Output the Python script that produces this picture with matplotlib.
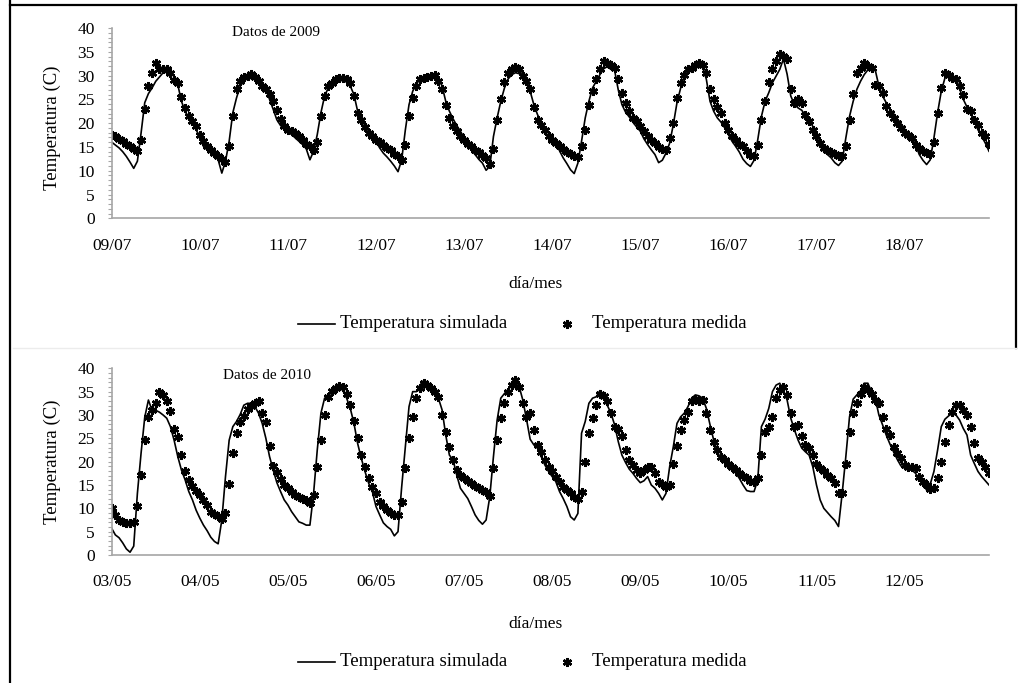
import numpy as np
import matplotlib.pyplot as plt
from matplotlib.lines import Line2D
from matplotlib.ticker import MultipleLocator, FixedLocator

plt.rcParams['font.family'] = ['Liberation Serif', 'DejaVu Serif']

## Datos horarios (24 valores por dia, 10 dias por serie)
dias_2009 = ['09/07', '10/07', '11/07', '12/07', '13/07',
             '14/07', '15/07', '16/07', '17/07', '18/07']
dias_2010 = ['03/05', '04/05', '05/05', '06/05', '07/05',
             '08/05', '09/05', '10/05', '11/05', '12/05']

sim_2009 = [
    16.0, 15.4, 14.8, 14.0, 13.0, 11.8, 10.5, 12.0, 17.9, 24.3, 26.2, 27.4, 28.8, 29.7, 30.6, 30.7, 30.6, 29.9, 28.1, 24.6, 22.5, 21.1, 20.0, 18.6,
    17.1, 15.1, 14.4, 13.9, 13.2, 12.3, 9.5, 12.0, 16.2, 22.2, 25.3, 27.8, 28.8, 29.5, 30.0, 29.7, 29.0, 28.3, 27.1, 25.0, 22.9, 20.7, 19.5, 18.8,
    18.3, 17.6, 16.9, 16.2, 15.5, 14.6, 12.3, 14.1, 17.6, 22.2, 25.7, 27.4, 28.5, 28.8, 29.0, 29.2, 28.6, 27.8, 26.0, 22.5, 20.7, 19.5, 18.3, 17.2,
    16.2, 14.8, 13.7, 12.9, 12.0, 11.0, 9.8, 12.3, 18.6, 23.9, 26.7, 28.3, 29.2, 29.5, 29.7, 29.9, 30.0, 29.5, 27.8, 24.6, 22.5, 20.9, 19.5, 18.3,
    16.9, 15.7, 14.3, 13.4, 12.4, 11.6, 10.1, 10.9, 17.2, 21.1, 24.6, 27.4, 29.3, 30.2, 30.6, 30.4, 30.6, 29.2, 26.7, 23.9, 21.8, 20.2, 19.0, 17.9,
    17.0, 15.8, 14.2, 12.7, 11.5, 10.2, 9.4, 11.6, 16.2, 21.1, 24.6, 27.4, 28.8, 30.2, 31.4, 31.9, 31.3, 31.1, 27.0, 23.9, 22.3, 21.3, 20.2, 19.2,
    18.3, 16.7, 15.5, 14.4, 13.4, 11.7, 12.2, 13.7, 15.8, 19.7, 24.3, 27.4, 29.9, 30.9, 31.4, 32.0, 32.7, 31.9, 29.2, 24.6, 22.5, 21.1, 20.2, 19.0,
    17.6, 16.2, 15.1, 13.9, 12.4, 11.5, 10.9, 12.2, 16.5, 21.4, 24.6, 26.4, 28.5, 29.9, 31.3, 33.5, 30.3, 25.7, 23.9, 23.2, 22.7, 21.6, 20.7, 19.3,
    17.6, 15.1, 14.1, 13.4, 12.7, 11.7, 11.1, 12.0, 16.9, 21.4, 24.6, 27.1, 28.8, 30.2, 31.2, 31.3, 31.2, 27.8, 25.7, 24.3, 23.0, 22.0, 20.9, 19.9,
    18.8, 17.6, 16.9, 15.5, 13.4, 12.2, 11.3, 12.3, 16.9, 22.2, 26.7, 29.5, 29.9, 29.2, 29.5, 27.2, 25.0, 23.4, 22.0, 20.4, 18.6, 17.2, 15.8, 14.1,
]
med_2009 = [
    17.6, 17.2, 16.7, 16.2, 15.7, 15.2, 14.6, 14.1, 16.4, 22.9, 27.8, 30.6, 32.6, 31.3, 31.3, 31.3, 30.6, 29.0, 28.5, 25.5, 23.2, 21.4, 20.4, 19.3,
    17.6, 16.2, 15.3, 14.4, 13.7, 13.2, 12.5, 11.9, 15.3, 21.4, 27.2, 28.8, 29.7, 30.0, 30.4, 29.7, 28.8, 27.9, 27.1, 26.2, 24.6, 22.8, 20.9, 19.5,
    18.6, 18.3, 17.9, 17.2, 16.5, 15.7, 15.1, 14.3, 16.0, 21.4, 25.8, 27.8, 28.5, 29.3, 29.5, 29.4, 29.2, 28.5, 25.7, 22.2, 20.7, 19.2, 17.9, 17.2,
    16.5, 16.0, 15.5, 14.8, 14.3, 13.6, 13.0, 12.3, 15.5, 21.4, 25.3, 27.9, 29.2, 29.5, 29.7, 30.0, 30.2, 28.8, 27.1, 23.9, 21.1, 19.5, 18.3, 17.2,
    16.5, 15.7, 15.1, 14.4, 13.9, 13.4, 12.7, 11.5, 14.6, 20.7, 25.0, 28.6, 30.6, 31.3, 31.9, 31.4, 30.0, 28.8, 27.1, 23.4, 20.7, 19.7, 18.6, 17.2,
    16.4, 15.8, 15.2, 14.6, 14.0, 13.5, 13.0, 12.9, 15.1, 18.6, 23.9, 26.7, 29.2, 31.3, 33.1, 32.7, 32.3, 31.6, 29.2, 26.4, 24.3, 22.5, 21.1, 20.4,
    19.3, 18.3, 17.2, 16.5, 15.8, 15.0, 14.6, 14.4, 16.9, 20.0, 25.3, 28.5, 30.2, 31.3, 31.6, 32.3, 32.7, 32.3, 30.6, 27.1, 25.0, 23.4, 22.2, 20.0,
    18.6, 17.2, 16.5, 15.7, 15.1, 14.1, 13.4, 13.1, 15.5, 20.7, 24.6, 28.6, 31.3, 33.1, 34.5, 34.2, 33.4, 27.1, 24.3, 25.0, 24.3, 21.8, 20.4, 18.6,
    17.2, 15.8, 14.8, 14.3, 13.9, 13.6, 13.2, 13.0, 15.1, 20.7, 26.2, 30.6, 31.6, 32.7, 32.0, 31.6, 28.1, 27.8, 26.4, 23.6, 22.2, 21.1, 20.0, 19.0,
    17.9, 17.5, 16.9, 15.5, 14.8, 14.1, 13.7, 13.6, 16.0, 22.2, 27.4, 30.6, 30.2, 29.5, 29.3, 27.8, 26.0, 22.9, 22.5, 20.7, 19.7, 17.9, 17.2, 15.7,
]
sim_2010 = [
    5.7, 4.3, 3.7, 2.6, 1.3, 0.6, 1.9, 13.2, 21.8, 29.5, 33.2, 31.0, 31.0, 30.6, 30.0, 29.3, 27.5, 24.6, 21.1, 18.2, 16.1, 13.6, 11.8, 9.6,
    7.9, 6.4, 5.2, 3.8, 2.9, 2.4, 7.5, 16.8, 24.6, 27.5, 28.6, 30.1, 32.1, 32.5, 32.5, 31.8, 30.4, 28.2, 25.0, 21.1, 18.2, 15.5, 13.6, 11.8,
    10.7, 9.3, 8.2, 7.1, 6.8, 6.4, 6.4, 13.2, 22.5, 30.4, 33.6, 34.1, 35.0, 35.7, 36.1, 35.2, 33.6, 31.4, 28.2, 23.9, 20.7, 17.9, 15.4, 13.6,
    10.4, 8.6, 6.9, 6.1, 5.5, 4.1, 5.0, 14.6, 23.2, 31.8, 35.0, 35.0, 36.4, 37.4, 36.9, 36.1, 35.0, 33.6, 31.1, 25.7, 21.4, 20.4, 17.1, 14.3,
    13.2, 12.1, 10.4, 8.6, 7.4, 6.6, 7.5, 12.5, 21.1, 28.9, 33.6, 34.6, 35.4, 36.9, 37.5, 36.1, 33.2, 29.1, 24.8, 23.6, 22.9, 21.1, 19.3, 17.9,
    16.8, 15.7, 13.6, 12.1, 10.4, 8.2, 7.5, 8.9, 26.1, 28.6, 32.5, 33.6, 33.9, 35.2, 33.9, 32.1, 30.4, 27.9, 24.3, 21.4, 19.8, 18.4, 17.5, 16.4,
    15.5, 15.9, 16.8, 15.0, 14.3, 13.2, 11.8, 13.2, 18.9, 23.2, 28.2, 29.6, 30.4, 31.8, 33.6, 34.3, 34.1, 33.6, 31.4, 27.9, 24.6, 22.1, 20.5, 19.8,
    19.3, 18.6, 17.6, 16.4, 15.0, 13.8, 13.6, 13.6, 16.1, 27.5, 29.1, 31.4, 35.0, 36.4, 36.8, 35.2, 33.2, 29.3, 26.8, 24.6, 22.9, 22.1, 21.4, 18.9,
    15.0, 11.8, 10.0, 9.1, 8.2, 7.4, 6.1, 13.2, 21.1, 29.6, 33.4, 34.3, 35.2, 36.8, 36.8, 35.0, 33.6, 30.0, 27.9, 25.7, 23.8, 22.1, 20.5, 19.1,
    18.6, 18.2, 18.2, 17.5, 16.1, 15.2, 13.9, 15.2, 17.9, 22.5, 27.5, 29.1, 29.8, 30.4, 30.0, 28.9, 27.1, 25.7, 21.4, 19.6, 17.9, 16.8, 15.9, 15.0,
]
med_2010 = [
    10.0, 8.5, 7.5, 7.1, 6.9, 6.9, 7.0, 10.4, 17.1, 24.6, 29.6, 31.1, 32.6, 35.0, 34.3, 32.9, 30.9, 27.1, 25.2, 21.4, 17.9, 16.1, 14.8, 13.8,
    12.9, 11.8, 10.7, 9.3, 8.7, 8.4, 7.8, 9.0, 15.2, 21.8, 26.1, 28.4, 29.8, 31.2, 32.0, 32.6, 32.9, 30.5, 28.6, 23.4, 19.1, 17.8, 16.3, 15.0,
    14.3, 13.4, 12.9, 12.5, 12.1, 11.8, 11.1, 12.9, 18.9, 24.6, 30.0, 33.9, 35.2, 35.8, 36.2, 35.9, 34.6, 32.1, 28.8, 25.0, 21.4, 18.9, 16.6, 14.6,
    13.2, 11.4, 10.4, 9.6, 8.9, 8.6, 8.6, 11.4, 18.6, 25.0, 29.6, 33.6, 35.7, 36.8, 36.4, 35.7, 35.0, 33.9, 30.0, 26.4, 23.1, 20.4, 18.2, 17.1,
    16.4, 15.9, 15.4, 14.8, 14.3, 13.9, 13.4, 12.7, 18.6, 24.6, 29.3, 32.5, 35.0, 36.4, 37.5, 36.1, 32.5, 29.6, 30.4, 26.8, 23.6, 22.1, 20.4, 18.9,
    17.9, 16.8, 15.7, 14.6, 13.9, 13.2, 12.5, 11.9, 13.6, 20.0, 26.1, 29.3, 32.1, 34.6, 34.1, 32.9, 30.4, 27.5, 27.1, 25.4, 22.5, 20.4, 19.3, 18.2,
    17.5, 18.2, 18.9, 18.9, 17.5, 15.7, 15.2, 14.5, 15.0, 19.6, 23.4, 26.8, 28.9, 30.7, 32.9, 33.4, 32.9, 33.2, 30.4, 26.8, 24.3, 22.5, 21.1, 20.4,
    19.6, 18.9, 18.2, 17.5, 16.9, 16.4, 15.9, 15.7, 16.4, 21.4, 26.4, 27.5, 29.6, 33.6, 35.4, 36.1, 34.3, 30.4, 27.5, 27.9, 25.4, 23.6, 22.9, 21.4,
    19.6, 18.6, 17.9, 17.1, 16.4, 15.4, 13.2, 13.2, 19.6, 26.4, 30.4, 32.6, 34.6, 36.1, 35.4, 34.6, 33.2, 32.5, 29.6, 27.1, 25.7, 23.2, 21.8, 20.7,
    19.3, 18.9, 18.9, 18.6, 16.8, 15.7, 15.0, 14.1, 14.3, 16.4, 20.0, 24.3, 27.9, 30.7, 32.1, 32.1, 31.1, 30.0, 27.5, 23.9, 20.7, 20.0, 18.9, 17.5,
]

W, H = 1022, 683
GRIS = '#a6a6a6'
MARCA = dict(ls='none', marker=(6, 2, 0), ms=6.5, mew=1.8, color='black')


def fx(x):
    return x / W


def fy(y):
    return 1 - y / H


fig = plt.figure(figsize=(W / 100, H / 100), dpi=100)
fig.patch.set_facecolor('white')

## marco de la figura
for xs, ys in [((10, 10), (0, H)), ((10, 1016), (5, 5)), ((1016, 1016), (5, 348))]:
    fig.add_artist(Line2D([fx(x) for x in xs], [fy(y) for y in ys],
                          color='black', lw=1.6))
fig.add_artist(Line2D([fx(13), fx(1016)], [fy(348), fy(348)], color='#ececec', lw=1))


def panel(y_cero, y_cuarenta, sim, med, dias, titulo, tit_xy, ylab_y, xlab_y, leg_y):
    x0, x1 = 111.7, 989.0
    ax = fig.add_axes([fx(x0), fy(y_cero), (x1 - x0) / W, (y_cero - y_cuarenta) / H])
    t = np.arange(len(sim)) / 24
    ax.plot(t, sim, color='black', lw=1.2)
    ax.plot(t, med, **MARCA)
    ax.set_xlim(0, (len(sim) - 1) / 24)
    ax.set_ylim(0, 40)
    for s in ['top', 'right']:
        ax.spines[s].set_visible(False)
    for s in ['left', 'bottom']:
        ax.spines[s].set_color(GRIS)
        ax.spines[s].set_linewidth(1.2)
    ax.yaxis.set_major_locator(MultipleLocator(5))
    ax.yaxis.set_minor_locator(MultipleLocator(1))
    ax.tick_params(axis='y', which='both', direction='out', length=3.2,
                   color=GRIS, width=0.8, labelsize=12.5, pad=9)
    ax.xaxis.set_major_locator(FixedLocator(range(len(dias))))
    ax.set_xticklabels(dias)
    ax.tick_params(axis='x', length=0, labelsize=12.5, pad=14)
    ax.set_facecolor('none')

    fig.text(fx(tit_xy[0]), fy(tit_xy[1]), titulo, fontsize=11, ha='left', va='center')
    fig.text(fx(52), fy(ylab_y), 'Temperatura (C)', fontsize=13.5, rotation=90,
             ha='center', va='center')
    fig.text(fx(535), fy(xlab_y), 'día/mes', fontsize=12.5, ha='center', va='center')

    # leyenda
    fig.add_artist(Line2D([fx(298), fx(335)], [fy(leg_y), fy(leg_y)], color='black', lw=1.2))
    fig.text(fx(340), fy(leg_y), 'Temperatura simulada', fontsize=13.5, ha='left', va='center')
    fig.add_artist(Line2D([fx(567)], [fy(leg_y)], **MARCA))
    fig.text(fx(592), fy(leg_y), 'Temperatura medida', fontsize=13.5, ha='left', va='center')
    return ax


panel(218.3, 28.0, sim_2009, med_2009, dias_2009, 'Datos de 2009', (231.7, 32.7), 128, 284, 324)
panel(555.0, 368.3, sim_2010, med_2010, dias_2010, 'Datos de 2010', (223.0, 375.7), 461.5, 624, 662)

fig.savefig('out.png', dpi=100)
